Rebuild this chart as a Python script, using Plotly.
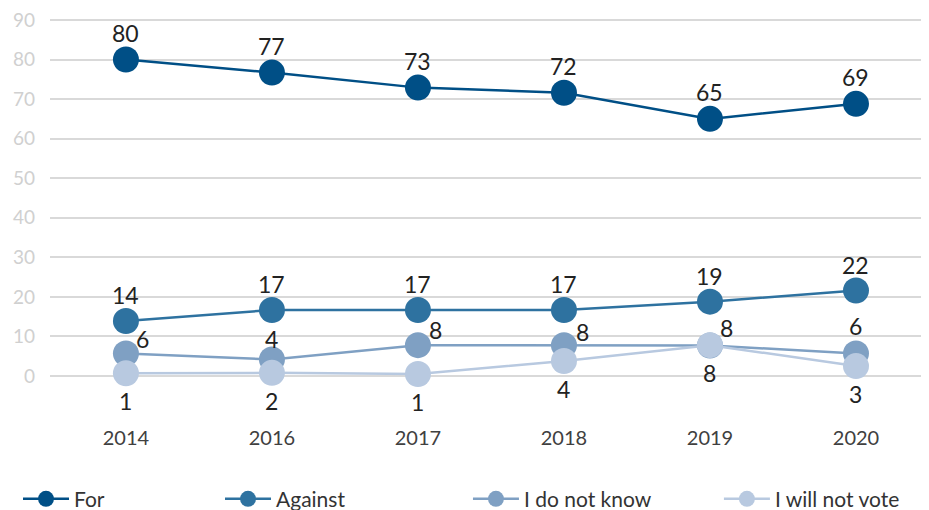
import plotly.graph_objects as go

years = ["2014", "2016", "2017", "2018", "2019", "2020"]
series_names = ["For", "Against", "I do not know", "I will not vote"]
for_vals = [80.0, 76.7, 72.9, 71.6, 65.0, 68.8]
against_vals = [13.9, 16.7, 16.7, 16.7, 18.8, 21.6]
dontknow_vals = [5.7, 4.2, 7.8, 7.8, 7.7, 5.7]
novote_vals = [0.7, 0.8, 0.5, 3.8, 7.8, 2.5]
for_labels = [80, 77, 73, 72, 65, 69]
against_labels = [14, 17, 17, 17, 19, 22]
dontknow_labels = [6, 4, 8, 8, 8, 6]
novote_labels = [1, 2, 1, 4, 8, 3]
y_ticks = [0, 10, 20, 30, 40, 50, 60, 70, 80, 90]

colors = ["#004f86", "#2e72a0", "#7fa0c3", "#b8c9e0"]
values = [for_vals, against_vals, dontknow_vals, novote_vals]
labels = [for_labels, against_labels, dontknow_labels, novote_labels]
# label offsets (px) per series / point
offsets = [
    [(0, 27)] * 6,
    [(0, 26)] * 6,
    [(17, 14), (0, 20), (18, 15), (19, 13), (17, 18), (0, 27)],
    [(0, -28)] * 6,
]

FONT = "Lato, 'Open Sans', sans-serif"
fig = go.Figure()
legend_x = [-0.0364, 0.1934, 0.4755, 0.761]
for i, name in enumerate(series_names):
    lg = "legend" if i == 0 else f"legend{i+1}"
    fig.add_trace(go.Scatter(
        x=years, y=values[i], name=name, mode="lines+markers",
        line=dict(color=colors[i], width=2.5),
        marker=dict(color=colors[i], size=26),
        hoverinfo="skip", legend=lg, cliponaxis=False,
    ))
    for j in range(len(years)):
        dx, dy = offsets[i][j]
        fig.add_annotation(x=j, y=values[i][j], xref="x", yref="y",
                           text=str(labels[i][j]),
                           showarrow=False, xshift=dx, yshift=dy,
                           font=dict(size=23, color="#222222", family=FONT))

layout_legends = {}
for i in range(4):
    key = "legend" if i == 0 else f"legend{i+1}"
    layout_legends[key] = dict(x=legend_x[i], y=-0.344, xanchor="left", yanchor="middle",
                               orientation="h", bgcolor="rgba(0,0,0,0)",
                               font=dict(size=21, color="#333333", family=FONT),
                               itemsizing="trace", itemwidth=46)

# page body has an 8px margin, so the figure is sized to fit the 929x510 window
fig.update_layout(
    width=921, height=502,
    margin=dict(l=42, r=0, t=10, b=134, autoexpand=False),
    paper_bgcolor="white", plot_bgcolor="white",
    font=dict(family=FONT),
    showlegend=True,
    **layout_legends,
)
fig.update_xaxes(type="category", range=[-0.52, 5.5], showgrid=False, showline=False,
                 zeroline=False, ticks="", ticklabelstandoff=48,
                 tickfont=dict(size=20, color="#404040", family=FONT))
fig.update_yaxes(range=[0, 90.5], tickvals=y_ticks, showgrid=True, gridcolor="#d9d9d9",
                 gridwidth=1.5, zeroline=True, zerolinecolor="#d9d9d9", zerolinewidth=1.5,
                 showline=False, ticks="", ticklabelstandoff=14, ticklabeloverflow="allow",
                 tickfont=dict(size=19, color="#d0d0d0", family=FONT))

fig.write_html("out.html")
